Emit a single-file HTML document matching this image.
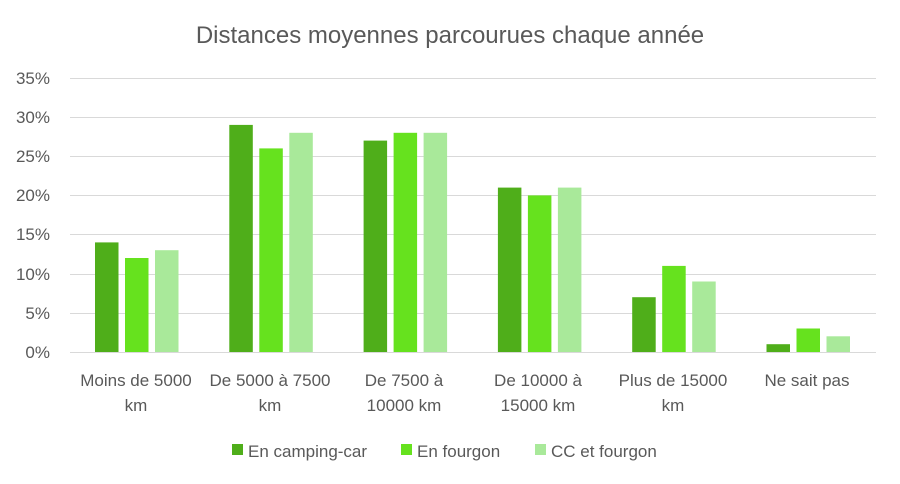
<!DOCTYPE html>
<html><head><meta charset="utf-8"><style>
body{margin:0;background:#fff;}
svg{display:block;font-family:"Liberation Sans",sans-serif;}
</style></head><body>
<svg width="900" height="484" viewBox="0 0 900 484">
<rect width="900" height="484" fill="#fff"/>
<text x="450" y="43" text-anchor="middle" font-size="24" fill="#595959">Distances moyennes parcourues chaque année</text>
<g stroke="#d9d9d9" stroke-width="1">
<line x1="70" x2="876" y1="78.5" y2="78.5"/>
<line x1="70" x2="876" y1="117.5" y2="117.5"/>
<line x1="70" x2="876" y1="156.5" y2="156.5"/>
<line x1="70" x2="876" y1="195.5" y2="195.5"/>
<line x1="70" x2="876" y1="234.5" y2="234.5"/>
<line x1="70" x2="876" y1="274.5" y2="274.5"/>
<line x1="70" x2="876" y1="313.5" y2="313.5"/>
<line x1="70" x2="876" y1="352.5" y2="352.5"/>
</g>
<g font-size="17" fill="#595959" text-anchor="end">
<text x="50" y="84">35%</text>
<text x="50" y="123">30%</text>
<text x="50" y="162">25%</text>
<text x="50" y="201">20%</text>
<text x="50" y="240">15%</text>
<text x="50" y="280">10%</text>
<text x="50" y="319">5%</text>
<text x="50" y="358">0%</text>
</g>
<g>
<rect x="95" y="242.4" width="23.5" height="109.6" fill="#4fae1a"/>
<rect x="125" y="258" width="23.5" height="94" fill="#66e21e"/>
<rect x="155" y="250.2" width="23.5" height="101.8" fill="#a9e99a"/>
<rect x="229.3" y="124.9" width="23.5" height="227.1" fill="#4fae1a"/>
<rect x="259.3" y="148.4" width="23.5" height="203.6" fill="#66e21e"/>
<rect x="289.3" y="132.8" width="23.5" height="219.2" fill="#a9e99a"/>
<rect x="363.6" y="140.6" width="23.5" height="211.4" fill="#4fae1a"/>
<rect x="393.6" y="132.8" width="23.5" height="219.2" fill="#66e21e"/>
<rect x="423.6" y="132.8" width="23.5" height="219.2" fill="#a9e99a"/>
<rect x="497.9" y="187.6" width="23.5" height="164.4" fill="#4fae1a"/>
<rect x="527.9" y="195.4" width="23.5" height="156.6" fill="#66e21e"/>
<rect x="557.9" y="187.6" width="23.5" height="164.4" fill="#a9e99a"/>
<rect x="632.2" y="297.2" width="23.5" height="54.8" fill="#4fae1a"/>
<rect x="662.2" y="265.9" width="23.5" height="86.1" fill="#66e21e"/>
<rect x="692.2" y="281.5" width="23.5" height="70.5" fill="#a9e99a"/>
<rect x="766.5" y="344.2" width="23.5" height="7.8" fill="#4fae1a"/>
<rect x="796.5" y="328.5" width="23.5" height="23.5" fill="#66e21e"/>
<rect x="826.5" y="336.3" width="23.5" height="15.7" fill="#a9e99a"/>
</g>
<g font-size="17" fill="#595959" text-anchor="middle">
<text x="136" y="386">Moins de 5000</text><text x="136" y="411">km</text>
<text x="270" y="386">De 5000 à 7500</text><text x="270" y="411">km</text>
<text x="404" y="386">De 7500 à</text><text x="404" y="411">10000 km</text>
<text x="538" y="386">De 10000 à</text><text x="538" y="411">15000 km</text>
<text x="673" y="386">Plus de 15000</text><text x="673" y="411">km</text>
<text x="807" y="386">Ne sait pas</text>
</g>
<g font-size="17" fill="#595959">
<rect x="232" y="444" width="11" height="11" fill="#4fae1a"/><text x="248" y="457">En camping-car</text>
<rect x="401" y="444" width="11" height="11" fill="#66e21e"/><text x="417" y="457">En fourgon</text>
<rect x="535" y="444" width="11" height="11" fill="#a9e99a"/><text x="551" y="457">CC et fourgon</text>
</g>
</svg>
</body></html>
